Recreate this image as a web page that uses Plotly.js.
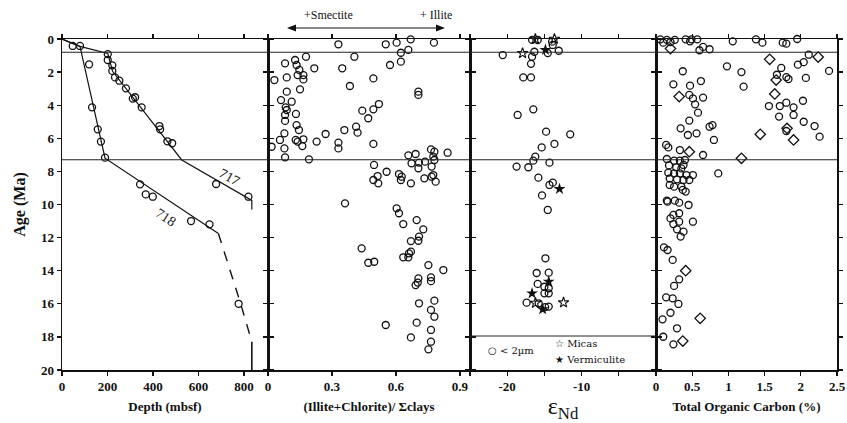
<!DOCTYPE html>
<html><head><meta charset="utf-8">
<script src="https://cdn.plot.ly/plotly-3.0.1.min.js"></script>
<style>body{margin:0;background:#fff}#c{width:847px;height:423px}</style>
</head><body><div id="c"></div>
<script>
// ---- Panel 1: depth vs age, sites 717 and 718 ----
const depth717 = [201,201,221,221,233,252,281,321,311,350,428,431,463,484,677,819];
const age717   = [0.91,1.27,1.59,1.93,2.32,2.52,2.98,3.52,3.60,4.13,5.26,5.46,6.18,6.30,8.76,9.53];
const depth718 = [47,79,119,132,157,171,189,343,368,399,567,648,776];
const age718   = [0.42,0.42,1.53,4.13,5.46,6.20,7.17,8.78,9.39,9.53,11.0,11.2,16.0];
const line717Depth = [0,79,201,222,526,834,834];
const line717Age   = [0,0.45,0.87,1.95,7.31,9.75,10.3];
const line718Depth = [0,79,189,687];
const line718Age   = [0,0.45,7.2,11.75];
const dash718Depth = [687,785,834];
const dash718Age   = [11.75,16.0,18.3];
const end718Depth  = [834,834];
const end718Age    = [18.3,20];
const depthTicks = [0,200,400,600,800];

// ---- Panel 2: (Illite+Chlorite)/Σclays ----
const clayRatio = [0.330,0.552,0.603,0.669,0.778,0.623,0.658,0.405,0.178,0.623,0.572,0.080,0.127,0.134,0.147,0.166,0.139,0.217,0.348,0.030,0.088,0.166,0.494,0.384,0.150,0.088,0.705,0.705,0.061,0.111,0.083,0.088,0.080,0.080,0.131,0.442,0.470,0.494,0.520,0.134,0.145,0.077,0.413,0.420,0.358,0.270,0.017,0.056,0.077,0.130,0.139,0.166,0.161,0.228,0.330,0.330,0.494,0.080,0.192,0.658,0.692,0.764,0.780,0.775,0.842,0.673,0.708,0.736,0.780,0.767,0.705,0.497,0.556,0.514,0.494,0.517,0.614,0.627,0.623,0.670,0.733,0.767,0.786,0.775,0.361,0.603,0.614,0.697,0.634,0.728,0.708,0.705,0.670,0.439,0.670,0.634,0.658,0.661,0.470,0.498,0.752,0.822,0.705,0.702,0.692,0.764,0.764,0.708,0.780,0.764,0.780,0.552,0.697,0.764,0.670,0.764,0.752];
const clayAge   = [0.32,0.32,0.22,0.02,0.22,0.83,0.66,1.07,1.07,1.37,1.57,1.47,1.27,1.57,1.87,2.18,2.18,1.77,1.77,2.48,2.32,2.44,2.38,2.84,3.04,3.18,3.18,3.38,3.69,3.79,4.13,4.29,4.59,4.95,4.53,4.33,4.79,4.25,3.93,5.20,5.50,5.70,5.30,5.66,5.50,5.74,6.51,6.10,6.61,6.10,6.20,6.06,6.47,6.20,6.26,6.61,6.34,7.15,7.27,7.03,6.95,6.67,6.81,7.11,6.87,7.51,7.47,7.41,7.31,7.71,7.81,7.61,8.02,8.28,8.52,8.72,8.16,8.32,8.52,8.72,8.42,8.32,8.62,8.22,9.93,10.23,10.53,10.94,11.18,11.50,11.94,12.19,12.21,12.65,12.85,13.19,13.19,12.95,13.52,13.46,13.66,13.96,14.46,14.72,14.87,14.40,14.63,15.97,15.81,16.37,16.78,17.28,17.14,17.58,18.03,18.29,18.75];
const clayTicks = [0,0.3,0.6,0.9];
const clayTickText = ['0','0.3','0.6','0.9'];

// ---- Panel 3: εNd ----
const endClay    = [-16.66,-15.9,-13.96,-13.88,-20.6,-16.35,-16.66,-14.55,-13.07,-16.8,-17.84,-16.8,-16.49,-18.6,-14.77,-11.53,-13.65,-15.36,-16.22,-16.49,-14.32,-18.74,-17.16,-15.81,-14.32,-13.87,-15.32,-14.55,-14.86,-16.04,-14.42,-15.9,-15.0,-14.42,-15.0,-14.42,-17.39,-15.77,-14.42,-14.9];
const endClayAge = [0.05,0.06,0.16,0.36,0.97,0.77,1.07,0.85,0.71,1.50,2.32,2.32,4.25,4.59,5.60,5.76,6.34,6.55,7.11,7.35,7.47,7.71,7.75,8.38,8.82,8.68,9.45,10.33,13.25,14.14,14.12,14.80,14.97,15.06,15.37,15.37,15.93,15.97,16.17,16.20];
const endMicas    = [-16.22,-13.65,-17.93,-12.43,-16.2];
const endMicasAge = [0.0,0.0,0.86,15.93,15.95];
const endVerm     = [-14.86,-12.97,-16.66,-14.42,-15.23];
const endVermAge  = [0.66,9.06,15.37,14.66,16.33];
const endTicks = [-20,-10,0];
const endTickText = ['-20','-10','0'];
const endMinorTicks = [-25,-15,-5];

// ---- Panel 4: Total Organic Carbon ----
const tocCircle = [0.06,0.10,0.15,0.20,0.26,0.41,0.47,0.49,0.57,0.60,0.65,0.74,1.06,1.38,1.47,1.75,1.80,1.95,
  0.98,1.18,0.37,1.73,1.67,1.80,1.96,2.04,2.11,2.39,2.07,1.21,0.24,0.47,0.62,0.46,0.51,0.65,0.54,0.58,0.46,0.34,0.44,0.56,0.74,0.78,0.80,
  1.56,1.71,1.80,1.90,2.03,1.70,1.90,2.04,1.80,2.19,2.26,1.83,
  0.14,0.17,0.33,0.65,0.15,0.25,0.33,0.40,0.38,0.18,0.28,0.35,0.17,0.25,0.33,0.42,0.51,0.86,0.19,0.29,0.38,0.46,0.19,0.25,0.35,0.37,0.41,0.15,0.26,
  0.16,0.32,0.45,0.24,0.32,0.20,0.32,0.51,0.24,0.29,0.38,0.34,0.11,0.16,0.23,0.32,0.25,0.14,0.23,0.31,0.20,0.09,0.29,0.10,0.24];
const tocCircleAge = [0.02,0.22,0.05,0.18,0.05,0.02,0.14,0.02,0.02,0.68,0.48,0.62,0.14,0.02,0.22,0.22,0.28,0.0,
  1.65,2.0,1.95,1.75,2.16,2.3,1.55,1.40,0.95,1.93,2.35,2.88,2.74,2.82,2.54,3.38,3.59,3.54,3.95,4.45,4.93,5.40,5.80,5.70,5.30,5.20,6.10,
  4.05,4.05,3.85,4.13,3.73,4.69,4.59,5.00,5.56,5.26,5.90,2.42,
  6.40,6.55,6.71,7.01,7.25,7.35,7.35,7.31,7.61,7.64,7.76,7.82,8.08,8.12,8.12,8.22,8.22,8.12,8.43,8.48,8.52,8.52,8.82,8.92,8.92,9.12,9.22,9.77,9.77,
  9.83,9.89,10.03,10.63,10.53,10.84,11.04,11.04,11.18,11.50,11.64,11.94,12.59,12.75,13.35,14.52,14.92,15.61,15.67,16.01,16.54,16.94,17.48,17.99,18.45];
const tocDiamond    = [0.20,1.57,2.24,0.32,1.66,1.64,1.81,1.90,1.44,1.18,0.46,0.41,0.61,0.37];
const tocDiamondAge = [0.58,1.23,1.09,3.48,2.48,3.32,5.40,6.10,5.76,7.21,6.81,14.0,16.88,18.25];
const tocTicks = [0.5,1,1.5,2,2.5];
const tocTickText = ['0.5','1','1.5','2','2.5'];

const ageTicks = [0,2,4,6,8,10,12,14,16,18,20];
const boundaryAges = [0.8, 7.3];

// ---- layout geometry (pixels) ----
const W=847,H=423,L=62,R=10,T=39,B=53;
const PW=W-L-R, PH=H-T-B;
const px=v=>(v-L)/PW, py=v=>(H-B-v)/PH;
const edges=[62,268,470,656,837].map(px);

const serif='"Liberation Serif", "DejaVu Serif", serif';
const tickFont={family:serif,size:13,color:'#111',weight:'bold'};
const titleFont={family:serif,size:13,color:'#111',weight:'bold'};

const circ={symbol:'circle-open',size:7,color:'#111',line:{width:1.3,color:'#111'}};
const traces=[
 {x:line717Depth,y:line717Age,xaxis:'x',yaxis:'y',mode:'lines',line:{color:'#111',width:1.2},hoverinfo:'skip'},
 {x:line718Depth,y:line718Age,xaxis:'x',yaxis:'y',mode:'lines',line:{color:'#111',width:1.2},hoverinfo:'skip'},
 {x:dash718Depth,y:dash718Age,xaxis:'x',yaxis:'y',mode:'lines',line:{color:'#111',width:1.4,dash:'10px,9px'},hoverinfo:'skip'},
 {x:end718Depth,y:end718Age,xaxis:'x',yaxis:'y',mode:'lines',line:{color:'#111',width:1.6},hoverinfo:'skip'},
 {x:depth717,y:age717,xaxis:'x',yaxis:'y',mode:'markers',marker:circ,cliponaxis:false},
 {x:depth718,y:age718,xaxis:'x',yaxis:'y',mode:'markers',marker:circ,cliponaxis:false},
 {x:clayRatio,y:clayAge,xaxis:'x2',yaxis:'y2',mode:'markers',marker:circ,cliponaxis:false},
 {x:endClay,y:endClayAge,xaxis:'x3',yaxis:'y3',mode:'markers',marker:circ,cliponaxis:false},
 {x:endMicas,y:endMicasAge,xaxis:'x3',yaxis:'y3',mode:'markers',marker:{symbol:'star-open',size:8,color:'#111',line:{width:1.1,color:'#111'}},cliponaxis:false},
 {x:endVerm,y:endVermAge,xaxis:'x3',yaxis:'y3',mode:'markers',marker:{symbol:'star',size:9,color:'#111',line:{width:0}},cliponaxis:false},
 {x:tocCircle,y:tocCircleAge,xaxis:'x4',yaxis:'y4',mode:'markers',marker:circ,cliponaxis:false},
 {x:tocDiamond,y:tocDiamondAge,xaxis:'x4',yaxis:'y4',mode:'markers',marker:{symbol:'diamond-open',size:8,color:'#111',line:{width:1.3,color:'#111'}},cliponaxis:false}
];

const xbase={showline:true,linecolor:'#111',linewidth:1.5,mirror:'ticks',ticks:'outside',ticklen:4,tickwidth:1.3,tickcolor:'#111',
  showgrid:false,zeroline:false,tickfont:tickFont,tickmode:'array'};
const ybase={showline:true,linecolor:'#111',linewidth:1.5,mirror:'ticks',ticks:'outside',ticklen:4,tickwidth:1.3,tickcolor:'#111',
  showgrid:false,zeroline:false,range:[20,0],tickmode:'array',tickvals:ageTicks,tickfont:tickFont,domain:[0,1]};

// double-headed arrow above panel 2 (pixel geometry -> paper)
const aL=287,aR=445,aY=28,hw=9,hh=3.5;
const P=(x,y)=>px(x)+','+py(y);
const arrowShapes=[
 {type:'line',xref:'paper',yref:'paper',x0:px(aL+2),x1:px(aR-2),y0:py(aY),y1:py(aY),line:{color:'#111',width:1.2}},
 {type:'path',xref:'paper',yref:'paper',path:'M'+P(aL,aY)+' L'+P(aL+hw,aY-hh)+' L'+P(aL+hw,aY+hh)+' Z',fillcolor:'#111',line:{width:0}},
 {type:'path',xref:'paper',yref:'paper',path:'M'+P(aR,aY)+' L'+P(aR-hw,aY-hh)+' L'+P(aR-hw,aY+hh)+' Z',fillcolor:'#111',line:{width:0}}
];

const layout={
 width:W,height:H,margin:{l:L,r:R,t:T,b:B},paper_bgcolor:'#fff',plot_bgcolor:'#fff',showlegend:false,
 xaxis:Object.assign({},xbase,{domain:[edges[0],edges[1]],range:[0,905],tickvals:depthTicks,anchor:'y',
   title:{text:'Depth (mbsf)',font:titleFont,standoff:9}}),
 xaxis2:Object.assign({},xbase,{domain:[edges[1],edges[2]],range:[0,0.947],tickvals:clayTicks,ticktext:clayTickText,anchor:'y2',
   title:{text:'(Illite+Chlorite)/ Σclays',font:titleFont,standoff:9}}),
 xaxis3:Object.assign({},xbase,{domain:[edges[2],edges[3]],range:[-25,0],tickvals:endTicks,ticktext:endTickText,anchor:'y3',
   minor:{tickmode:'array',tickvals:endMinorTicks,ticks:'outside',ticklen:4,tickwidth:1.3,tickcolor:'#111',showgrid:false},
   title:{text:'ε<sub>Nd</sub>',font:{family:serif,size:24,color:'#111'},standoff:2}}),
 xaxis4:Object.assign({},xbase,{domain:[edges[3],edges[4]],range:[0,2.5],tickvals:tocTicks,ticktext:tocTickText,anchor:'y4',
   title:{text:'Total Organic Carbon (%)',font:titleFont,standoff:9}}),
 yaxis:Object.assign({},ybase,{anchor:'x',title:{text:'Age (Ma)',font:{family:serif,size:16,color:'#111',weight:'bold'},standoff:11}}),
 yaxis2:Object.assign({},ybase,{anchor:'x2',matches:'y',showticklabels:false}),
 yaxis3:Object.assign({},ybase,{anchor:'x3',matches:'y',showticklabels:false}),
 yaxis4:Object.assign({},ybase,{anchor:'x4',matches:'y',showticklabels:false}),
 shapes:[
  ...boundaryAges.map(a=>({type:'line',xref:'paper',yref:'y',x0:0,x1:1,y0:a,y1:a,line:{color:'#222',width:1.1}})),
  {type:'line',xref:'x3',yref:'y3',x0:-25,x1:0,y0:17.95,y1:17.95,line:{color:'#222',width:1.1}},
  ...arrowShapes
 ],
 annotations:[
  {xref:'x',yref:'y',x:738,y:8.35,text:'717',showarrow:false,textangle:29,font:{family:serif,size:14,color:'#111'}},
  {xref:'x',yref:'y',x:455,y:10.8,text:'718',showarrow:false,textangle:33,font:{family:serif,size:14,color:'#111'}},
  {xref:'paper',yref:'paper',x:px(302),y:py(15),yanchor:'middle',text:'+Smectite',showarrow:false,font:{family:serif,size:12,color:'#111'}},
  {xref:'paper',yref:'paper',x:px(436),y:py(15),yanchor:'middle',text:'+ Illite',showarrow:false,font:{family:serif,size:12,color:'#111'}},
  {xref:'x3',yref:'y3',x:-22.9,y:18.85,text:'○ < 2µm',xanchor:'left',showarrow:false,font:{family:'"DejaVu Serif", serif',size:10,color:'#111'}},
  {xref:'x3',yref:'y3',x:-13.8,y:18.4,text:'☆ Micas',xanchor:'left',showarrow:false,font:{family:'"DejaVu Serif", serif',size:10,color:'#111'}},
  {xref:'x3',yref:'y3',x:-13.8,y:19.35,text:'★ Vermiculite',xanchor:'left',showarrow:false,font:{family:'"DejaVu Serif", serif',size:10,color:'#111'}}
 ]
};
Plotly.newPlot('c',traces,layout,{staticPlot:true});
</script></body></html>
